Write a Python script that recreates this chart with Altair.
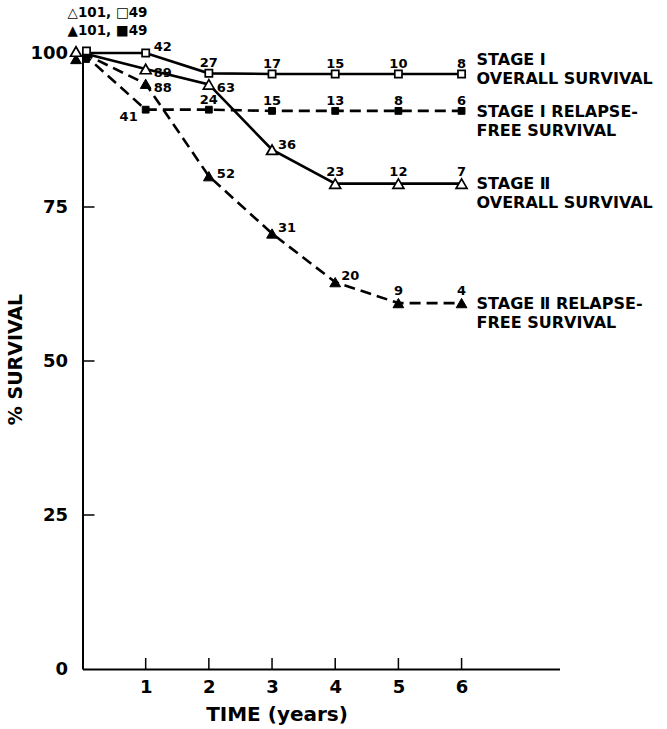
import altair as alt
import pandas as pd

# ---------------- data ----------------
time = [0, 1, 2, 3, 4, 5, 6]

stage1_overall = [100, 100, 96.7, 96.6, 96.6, 96.6, 96.6]
stage1_relapse_free = [100, 90.8, 90.8, 90.6, 90.6, 90.6, 90.6]
stage2_overall = [100, 97.4, 94.9, 84.3, 78.8, 78.8, 78.8]
stage2_relapse_free = [100, 95.0, 80.0, 70.7, 62.8, 59.4, 59.4]

# patients at risk
stage1_overall_n = [49, 42, 27, 17, 15, 10, 8]
stage1_relapse_free_n = [49, 41, 24, 15, 13, 8, 6]
stage2_overall_n = [101, 89, 63, 36, 23, 12, 7]
stage2_relapse_free_n = [101, 88, 52, 31, 20, 9, 4]

series_names = ["s1_os", "s1_rfs", "s2_os", "s2_rfs"]
series_text = {
    "s1_os": ["STAGE Ⅰ", "OVERALL SURVIVAL"],
    "s1_rfs": ["STAGE Ⅰ  RELAPSE-", "FREE SURVIVAL"],
    "s2_os": ["STAGE Ⅱ", "OVERALL SURVIVAL"],
    "s2_rfs": ["STAGE Ⅱ RELAPSE-", "FREE SURVIVAL"],
}

x_tick_values = [1, 2, 3, 4, 5, 6]
y_tick_values = [0, 25, 50, 75, 100]
y_inner_ticks = [25, 50, 75]

x_title = "TIME (years)"
y_title = "% SURVIVAL"

# ---------------- styles (kept apart from the data) ----------------
FONT = "DejaVu Sans"
W, H = 477, 616

series_values = {
    "s1_os": (stage1_overall, stage1_overall_n),
    "s1_rfs": (stage1_relapse_free, stage1_relapse_free_n),
    "s2_os": (stage2_overall, stage2_overall_n),
    "s2_rfs": (stage2_relapse_free, stage2_relapse_free_n),
}

marker_style = {
    "s1_os": dict(shape="square", fill="white", size=52, strokeWidth=1.7),
    "s1_rfs": dict(shape="square", fill="black", size=46, strokeWidth=1),
    "s2_os": dict(shape="triangle-up", fill="white", size=120, strokeWidth=1.7),
    "s2_rfs": dict(shape="triangle-up", fill="black", size=115, strokeWidth=1),
}
dashed = {"s1_os": False, "s1_rfs": True, "s2_os": False, "s2_rfs": True}
# offsets of the markers at t=0 (drawn side by side in the original)
start_offset = {
    "s1_os": (4, -2),
    "s1_rfs": (3.5, 6),
    "s2_os": (-6.5, -1.5),
    "s2_rfs": (-6.5, 6),
}
# placement of the at-risk numbers
placements = {
    "above_sq": ("center", 0, -11),
    "above_tri": ("center", 0, -13),
    "upright": ("left", 8, -7),
    "upright2": ("left", 6, -6),
    "upright3": ("left", 6, -7),
    "right": ("left", 8, 3),
    "right_up": ("left", 8, -3),
    "left": ("right", -8, 6),
}
series_placement = {
    "s1_os": [None, "upright", "above_sq", "above_sq", "above_sq", "above_sq", "above_sq"],
    "s1_rfs": [None, "left", "above_sq", "above_sq", "above_sq", "above_sq", "above_sq"],
    "s2_os": [None, "right", "right", "upright2", "above_tri", "above_tri", "above_tri"],
    "s2_rfs": [None, "right", "right_up", "upright2", "upright3", "above_tri", "above_tri"],
}
label_dy = {"s1_os": -21.5, "s1_rfs": -6.5, "s2_os": -7.3, "s2_rfs": -6.7}

# ---------------- table ----------------
rows = []
for s in series_names:
    vals, ns = series_values[s]
    for i, (t, v, n) in enumerate(zip(time, vals, ns)):
        rows.append(dict(series=s, t=t, v=v, n=str(n), place=series_placement[s][i] or "none"))
df = pd.DataFrame(rows)

x_scale = alt.Scale(domain=[0, 7.55], nice=False)
y_scale = alt.Scale(domain=[0, 100], nice=False)

x_axis = alt.Axis(
    values=x_tick_values, ticks=False, grid=False, domainColor="black", domainWidth=2,
    labelFont=FONT, labelFontSize=18, labelFontWeight="bold", labelColor="black",
    labelPadding=9, title=x_title, titleFont=FONT, titleFontSize=20, titleFontWeight="bold",
    titleColor="black", titleX=194, titleY=45, titleBaseline="middle", titleAlign="center",
)
y_axis = alt.Axis(
    values=y_tick_values, ticks=False, grid=False, domainColor="black", domainWidth=2,
    labelFont=FONT, labelFontSize=18, labelFontWeight="bold", labelColor="black",
    labelPadding=15, labelBaseline="middle", title=y_title, titleFont=FONT, titleFontSize=19,
    titleFontWeight="bold", titleColor="black", titleX=-67, titleY=H / 2 - 2,
    titleBaseline="middle", titleAlign="center", titleAngle=270,
)

X = alt.X("t:Q", scale=x_scale, axis=x_axis)
Y = alt.Y("v:Q", scale=y_scale, axis=y_axis)

layers = []

# inward tick marks
layers.append(
    alt.Chart(pd.DataFrame({"v": y_inner_ticks})).mark_rule(color="black", strokeWidth=1.5)
    .encode(y=Y, x=alt.value(0), x2=alt.value(12))
)
layers.append(
    alt.Chart(pd.DataFrame({"t": x_tick_values})).mark_rule(color="black", strokeWidth=1.5)
    .encode(x=X, y=alt.value(H), y2=alt.value(H - 11))
)

# lines
for s in series_names:
    kw = dict(color="black", strokeWidth=2.6)
    if dashed[s]:
        kw["strokeDash"] = [11, 6]
    layers.append(
        alt.Chart(df).transform_filter(alt.datum.series == s).mark_line(**kw).encode(x=X, y=Y)
    )

# markers
for s in ["s1_rfs", "s2_rfs", "s2_os", "s1_os"]:
    st = marker_style[s]
    base = alt.Chart(df).transform_filter(alt.datum.series == s)
    layers.append(
        base.transform_filter(alt.datum.t > 0).mark_point(
            shape=st["shape"], filled=True, fill=st["fill"], stroke="black",
            strokeWidth=st["strokeWidth"], size=st["size"], opacity=1,
        ).encode(x=X, y=Y)
    )
    dx, dy = start_offset[s]
    layers.append(
        base.transform_filter(alt.datum.t == 0).mark_point(
            shape=st["shape"], filled=True, fill=st["fill"], stroke="black",
            strokeWidth=st["strokeWidth"], size=st["size"], opacity=1,
            xOffset=dx, yOffset=dy,
        ).encode(x=X, y=Y)
    )

# at-risk numbers
for name, (align, dx, dy) in placements.items():
    layers.append(
        alt.Chart(df).transform_filter(alt.datum.place == name).mark_text(
            font=FONT, fontSize=13, fontWeight="bold", color="black",
            align=align, baseline="middle", dx=dx, dy=dy + 1,
        ).encode(x=X, y=Y, text="n:N")
    )

# starting numbers at the top left
top_df = pd.DataFrame({
    "t": [0, 0],
    "v": [100, 100],
    "txt": [
        f"△{stage2_overall_n[0]}, □{stage1_overall_n[0]}",
        f"▲{stage2_relapse_free_n[0]}, ■{stage1_relapse_free_n[0]}",
    ],
    "row": [0, 1],
})
for r, dy in [(0, -40), (1, -22)]:
    layers.append(
        alt.Chart(top_df).transform_filter(alt.datum.row == r).mark_text(
            font=FONT, fontSize=13.5, fontWeight="bold", color="black",
            align="left", baseline="middle", dx=-15, dy=dy,
        ).encode(x=X, y=Y, text="txt:N")
    )

# series labels at the right
for s in series_names:
    vals, _ = series_values[s]
    ldf = pd.DataFrame({"t": [time[-1]], "v": [vals[-1]], "txt": [series_text[s]]})
    layers.append(
        alt.Chart(ldf).mark_text(
            font=FONT, fontSize=16, fontWeight="bold", color="black",
            align="left", baseline="top", dx=15, dy=label_dy[s], lineHeight=18.5,
        ).encode(x=X, y=Y, text="txt")
    )

chart = alt.layer(*layers).properties(
    width=W, height=H,
    autosize=alt.AutoSizeParams(type="none"),
    padding={"left": 82.5, "top": 53, "right": 667 - 82.5 - W, "bottom": 729 - 53 - H},
    background="white",
).configure_view(stroke=None)

chart.save("out.html", embed_options={"renderer": "svg", "actions": False})
